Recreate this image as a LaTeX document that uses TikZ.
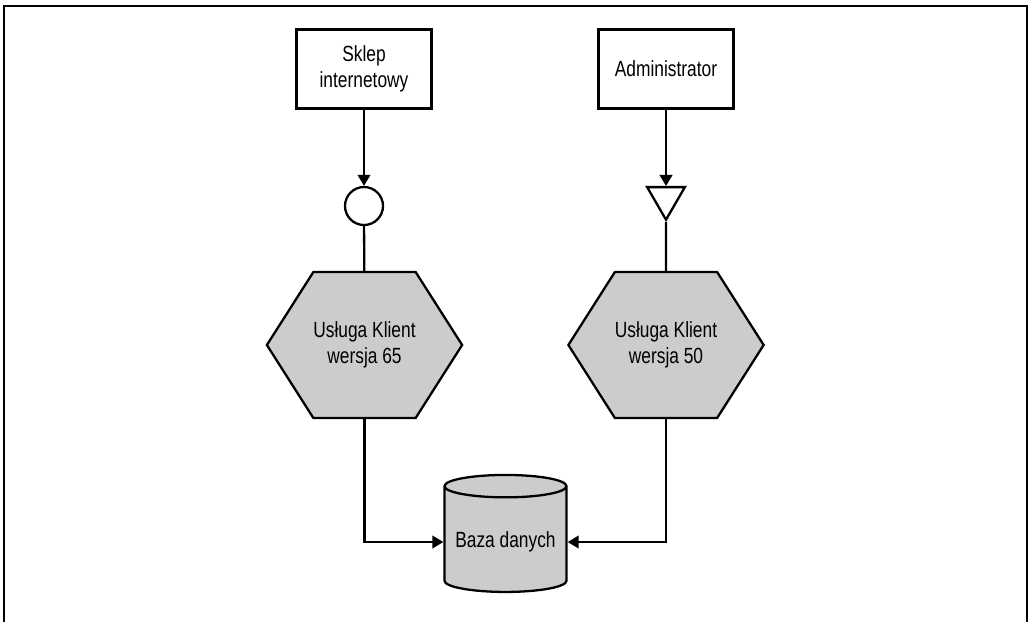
\documentclass[tikz,border=0pt]{standalone}
\usepackage{fontspec}
\setmainfont{Liberation Sans}[FakeStretch=0.79]
\usetikzlibrary{shapes.geometric,shapes.symbols,arrows.meta}
\begin{document}
\begin{tikzpicture}[
    every node/.append style={font=\fontsize{12.5}{15}\selectfont},
    actor/.style={rectangle, draw=black, fill=white, line width=1.3pt, minimum width=2.7cm, minimum height=1.58cm, align=center},
    service/.style={signal, signal to=west and east, signal pointer angle=115, draw=black, fill=black!20, line width=1.3pt, inner xsep=0pt, minimum width=3.84cm, minimum height=2.92cm, align=center},
    iface/.style={circle, draw=black, fill=white, line width=1.3pt, minimum size=0.76cm, inner sep=0pt},
    tipin/.style={regular polygon, regular polygon sides=3, shape border rotate=180, draw=black, fill=white, line width=1.3pt, minimum size=0.87cm, inner sep=0pt},
    store/.style={cylinder, shape border rotate=90, aspect=0.2, draw=black, fill=black!20, line width=1.3pt, minimum width=2.44cm, minimum height=2.34cm},
    link/.style={draw=black, line width=1.3pt},
    call/.style={link, -{Triangle[width=0.25cm,length=0.22cm]}}
]
    \useasboundingbox (0,0) rectangle (20.56,-12.44);
    % Ramka
    \draw[link] (0.08,-12.44) |- (20.54,-0.12) -- (20.54,-12.44);

    % Klienci
    \node[actor] (shop) at (7.28,-1.38) {Sklep\\internetowy};
    \node[actor] (admin) at (13.32,-1.38) {Administrator};

    % Interfejsy
    \node[iface] (ifaceA) at (7.28,-4.12) {};
    \node[tipin] (ifaceB) at (13.32,-3.96) {};

    % Usługi
    \node[service] (custA) at (7.29,-6.9) {Usługa Klient\\wersja 65};
    \node[service] (custB) at (13.32,-6.9) {Usługa Klient\\wersja 50};

    % Baza danych
    \node[store] (db) at (10.11,-10.84) {Baza danych};

    % Połączenia
    \draw[call] (shop) -- (ifaceA);
    \draw[call] (admin) -- (ifaceB);
    \draw[link] (ifaceA) -- (custA);
    \draw[link] (ifaceB) -- (custB);
    \draw[call] (custA) |- (db);
    \draw[call] (custB) |- (db);
\end{tikzpicture}
\end{document}
